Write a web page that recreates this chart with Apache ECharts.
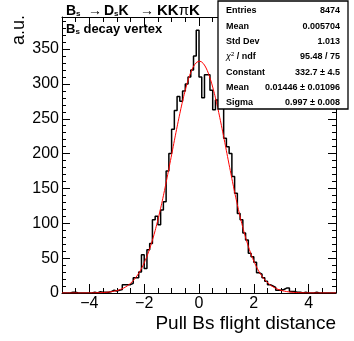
<!DOCTYPE html>
<html>
<head>
<meta charset="utf-8">
<title>Pull Bs flight distance</title>
<script src="https://cdn.jsdelivr.net/npm/echarts@6.0.0/dist/echarts.min.js"></script>
<style>
    html, body { margin: 0; padding: 0; background: #fff; }
    #main { width: 354px; height: 341px; }
</style>
</head>
<body>
<div id="main"></div>
<script>
    // histogram: 100 bins of 0.1 from -5 to 5
    var binLow = -5;
    var binWidth = 0.1;
    var counts = [
        0, 0, 0, 1, 1, 0, 0, 0, 0, 0,
        0, 1, 0, 2, 1, 1, 1, 2, 4, 3,
        4, 5, 12, 12, 12, 14, 22, 22, 30, 55,
        35, 62, 71, 105, 110, 98, 119, 131, 175, 200,
        235, 262, 282, 275, 290, 300, 310, 320, 340, 377,
        310, 280, 313, 313, 291, 263, 277, 268, 265, 222,
        210, 200, 167, 143, 114, 105, 86, 76, 57, 52,
        44, 29, 27, 22, 17, 12, 10, 8, 4, 4,
        5, 7, 7, 2, 2, 1, 1, 0, 1, 0,
        0, 0, 1, 0, 0, 0, 0, 0, 0, 0
    ];

    // gaus fit parameters (from the stat box)
    var fitConstant = 332.7;
    var fitMean = 0.01446;
    var fitSigma = 0.997;

    var xMajor = [-4, -2, 0, 2, 4];
    var yMajor = [0, 50, 100, 150, 200, 250, 300, 350];
    var yMax = 396;

    var statLabels = ['Entries', 'Mean', 'Std Dev', 'chi2', 'Constant', 'Mean', 'Sigma'];
    var statValues = ['8474', '0.005704', '1.013', '95.48 / 75', '332.7 \u00b1 4.5', '0.01446 \u00b1 0.01096', '0.997 \u00b1 0.008'];

    var font = 'Liberation Sans, Arial, Helvetica, sans-serif';

    // step line through the bin edges
    var histData = [];
    for (var i = 0; i < counts.length; i++) {
        histData.push([binLow + i * binWidth, counts[i]]);
    }
    histData.push([binLow + counts.length * binWidth, counts[counts.length - 1]]);

    var fitData = [];
    for (var k = 0; k <= 500; k++) {
        var x = -5 + k * 0.02;
        var d = (x - fitMean) / fitSigma;
        fitData.push([x, fitConstant * Math.exp(-0.5 * d * d)]);
    }

    function xAxisCfg(pos, major, labels) {
        var a = {
            type: 'value', position: pos, min: -5, max: 5,
            axisLine: {show: major, onZero: false, lineStyle: {color: '#000', width: 1}},
            axisTick: {inside: true, length: major ? 9 : 5, lineStyle: {color: '#000', width: 1}},
            axisLabel: {show: false},
            splitLine: {show: false}
        };
        if (major) {
            a.axisTick.customValues = xMajor;
        } else {
            a.interval = 0.5;
        }
        if (labels) {
            a.axisLabel = {
                show: true, customValues: xMajor, margin: 3,
                color: '#000', fontSize: 16, fontFamily: font,
                formatter: function (v) { return String(v).replace('-', '\u2212'); }
            };
        }
        return a;
    }

    function yAxisCfg(pos, major, labels) {
        var a = {
            type: 'value', position: pos, min: 0, max: yMax,
            axisLine: {show: major, onZero: false, lineStyle: {color: '#000', width: 1}},
            axisTick: {inside: true, length: major ? 8 : 4, lineStyle: {color: '#000', width: 1}},
            axisLabel: {show: false},
            splitLine: {show: false}
        };
        if (major) {
            a.axisTick.customValues = yMajor;
        } else {
            a.interval = 10;
        }
        if (labels) {
            a.axisLabel = {
                show: true, customValues: yMajor, margin: 3,
                color: '#000', fontSize: 16, fontFamily: font
            };
        }
        return a;
    }

    var myChart = echarts.init(document.getElementById('main'));

    var richTitle = {
        b: {fontSize: 14, fontWeight: 'bold', fontFamily: font, fill: '#000'},
        n: {fontSize: 14, fontFamily: font, fill: '#000'},
        k: {fontSize: 15, fontWeight: 'bold', fontFamily: font, fill: '#000'},
        p: {fontSize: 15, fontFamily: font, fill: '#000'},
        sub: {fontSize: 8, fontWeight: 'bold', fontFamily: font, fill: '#000', verticalAlign: 'bottom', padding: [6, 0, 0, 0]}
    };

    // pieces of the title: B_s -> D_sK -> KKpiK
    var titleParts = [
        {x: 66, t: '{b|B}{sub|s}'},
        {x: 88, t: '{n|\u2192}'},
        {x: 104, t: '{b|D}{sub|s}{b|K}'},
        {x: 140, t: '{n|\u2192}'},
        {x: 157, t: '{k|KK}{p|\u03c0}{k|K}'}
    ];
    var titleTexts = titleParts.map(function (p) {
        return {
            type: 'text', x: p.x, y: 11,
            style: {text: p.t, verticalAlign: 'middle', rich: richTitle}
        };
    });

    var statTexts = [];
    for (var r = 0; r < statLabels.length; r++) {
        var ty = 10.7 + r * 15.33;
        var lab = statLabels[r] === 'chi2'
            ? '{g|\u03c7}{sup|2}{b| / ndf}'
            : '{b|' + statLabels[r] + '}';
        statTexts.push({
            type: 'text', x: 226, y: ty, z: 102,
            style: {
                text: lab, verticalAlign: 'middle', align: 'left',
                rich: {
                    b: {fontSize: 9, fontWeight: 'bold', fontFamily: font, fill: '#000'},
                    g: {fontSize: 9, fontStyle: 'italic', fontFamily: font, fill: '#000'},
                    sup: {fontSize: 6, fontFamily: font, fill: '#000', verticalAlign: 'top', padding: [0, 0, 4, 0]}
                }
            }
        });
        statTexts.push({
            type: 'text', x: 340, y: ty, z: 102,
            style: {
                text: statValues[r], verticalAlign: 'middle', align: 'right',
                fontSize: 9, fontWeight: 'bold', fontFamily: font, fill: '#000'
            }
        });
    }

    var option = {
        animation: false,
        grid: {left: 62, right: 18, top: 17, bottom: 48},
        xAxis: [
            xAxisCfg('bottom', true, true),
            xAxisCfg('bottom', false, false),
            xAxisCfg('top', true, false),
            xAxisCfg('top', false, false)
        ],
        yAxis: [
            yAxisCfg('left', true, true),
            yAxisCfg('left', false, false),
            yAxisCfg('right', true, false),
            yAxisCfg('right', false, false)
        ],
        series: [
            {
                name: 'hist', type: 'line', step: 'end',
                xAxisIndex: 0, yAxisIndex: 0,
                data: histData, symbol: 'none',
                lineStyle: {color: '#000', width: 1.5}
            },
            {
                name: 'gaus', type: 'line',
                xAxisIndex: 0, yAxisIndex: 0,
                data: fitData, symbol: 'none',
                lineStyle: {color: '#ff0000', width: 1}
            }
        ],
        graphic: titleTexts.concat([
            {
                type: 'text', x: 66, y: 29,
                style: {
                    text: '{b|B}{sub|s}{b| decay vertex}',
                    verticalAlign: 'middle',
                    rich: {
                        b: {fontSize: 13, fontWeight: 'bold', fontFamily: font, fill: '#000'},
                        sub: {fontSize: 8, fontWeight: 'bold', fontFamily: font, fill: '#000', verticalAlign: 'bottom', padding: [6, 0, 0, 0]}
                    }
                }
            },
            {
                type: 'text', x: 19, y: 15, rotation: Math.PI / 2,
                style: {text: 'a.u.', align: 'right', verticalAlign: 'middle', fontSize: 18, fontFamily: font, fill: '#000'}
            },
            {
                type: 'text', x: 336, y: 324,
                style: {text: 'Pull Bs flight distance', align: 'right', verticalAlign: 'middle', fontSize: 19, fontFamily: font, fill: '#000'}
            },
            {
                type: 'rect', z: 100,
                shape: {x: 218, y: 1, width: 130, height: 108},
                style: {fill: '#fff', stroke: '#000', lineWidth: 1.3}
            }
        ]).concat(statTexts)
    };

    myChart.setOption(option);
</script>
</body>
</html>
